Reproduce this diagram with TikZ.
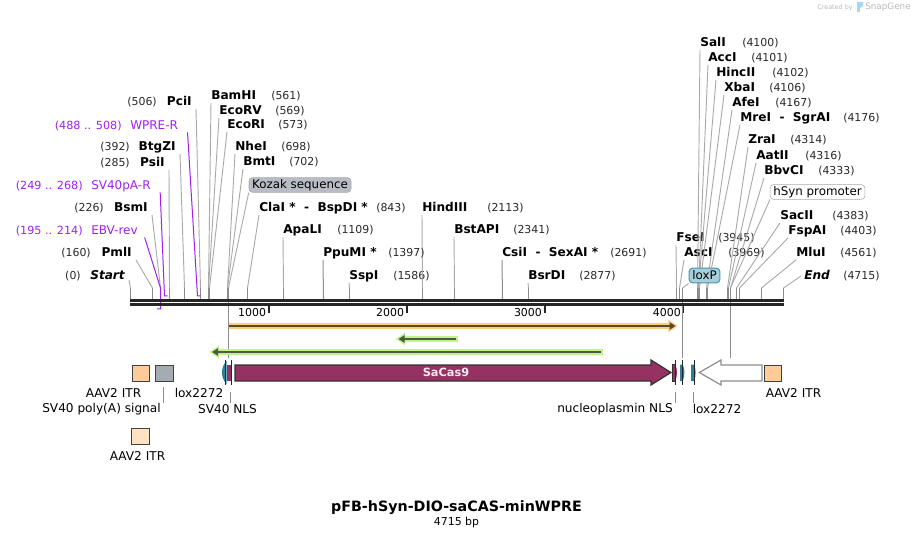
\documentclass[tikz,border=0pt]{standalone}
\usepackage{fontspec}
\setmainfont{DejaVu Sans}
\usetikzlibrary{arrows.meta,positioning,calc}
\definecolor{leadgray}{RGB}{170,170,170}
\definecolor{stemgray}{RGB}{140,140,140}
\definecolor{primer}{RGB}{160,32,240}
\definecolor{numink}{RGB}{40,40,40}
\definecolor{plum}{RGB}{150,50,98}
\definecolor{teal}{RGB}{46,126,155}
\definecolor{itrorange}{RGB}{255,204,153}
\definecolor{itrpale}{RGB}{255,226,196}
\definecolor{polya}{RGB}{164,171,179}
\definecolor{orfglow}{RGB}{250,205,130}
\definecolor{orfdark}{RGB}{92,74,42}
\definecolor{revglow}{RGB}{194,242,140}
\definecolor{revdark}{RGB}{78,90,66}
\definecolor{kozakfill}{RGB}{184,188,196}
\definecolor{loxfill}{RGB}{166,207,220}
\definecolor{loxline}{RGB}{78,147,168}
\definecolor{brandgray}{RGB}{185,185,185}
\definecolor{brandblue}{RGB}{170,215,240}
\tikzset{
  sitename/.style={anchor=base west,inner sep=0pt,text depth=2pt,font=\fontsize{9.1}{10}\selectfont\bfseries},
  sitenameleft/.style={sitename,anchor=base east},
  sitenum/.style={anchor=base west,inner sep=0pt,text=numink,font=\fontsize{8.2}{10}\selectfont},
  sitenumleft/.style={sitenum,anchor=base east},
  primername/.style={anchor=base west,inner sep=0pt,text depth=2pt,text=primer,font=\fontsize{9}{10}\selectfont},
  primernum/.style={primername,anchor=base east,font=\fontsize{8.4}{10}\selectfont},
  lead/.style={draw=leadgray,line width=.7pt},
  stem/.style={draw=stemgray,line width=.75pt},
  primerline/.style={draw=primer,line width=.75pt},
  spine/.style={draw=black!85,line width=2.2pt},
  tick/.style={draw=black!85,line width=1.4pt},
  ticklabel/.style={anchor=base east,inner sep=0pt,font=\fontsize{8.2}{10}\selectfont},
  fbox/.style={draw=black!75,line width=.8pt,inner sep=0pt,anchor=north west},
  flabel/.style={inner sep=0pt,font=\fontsize{9.1}{10}\selectfont},
  tag/.style={rounded corners=2.5pt,inner sep=0pt,minimum height=11pt,font=\fontsize{8.9}{10}\selectfont},
  edgeline/.style={draw=black!85,line width=.7pt},
  flink/.style={draw=stemgray,line width=.6pt}
}
\begin{document}
\begin{tikzpicture}[x=.75pt,y=-.75pt]
  \useasboundingbox (0,0) rectangle (914,538);
  % sites, name then number
  \foreach \nm/\lx/\ly/\nx/\sx/\pos in {BamHI/211/95/271/208.5/561,EcoRV/219/110/275/208.5/569,EcoRI/227/124/278/209.5/573,
    NheI/235/146/281/227.5/698,BmtI/243/161/289/227.5/702,ApaLI/283/229/337/283.5/1109,SspI/349/275/393/349.5/1586,
    HindIII/422/207/487/422.5/2113,BstAPI/454/229/513/454.5/2341,BsrDI/528/275/579/528.5/2877,
    FseI/676/237/718/676.5/3945,AscI/684/252/728/679.5/3969,SalI/700/42/742/697.5/4100,AccI/708/57/751/698.5/4101,
    HincII/716/72/772/698.5/4102,XbaI/724/87/769/699.5/4106,AfeI/732/102/775/706.5/4167,
    ZraI/748/139/790/727.5/4314,AatII/756/155/805/728.5/4316,BbvCI/764/170/818/730.5/4333,
    SacII/780/215/832/736.5/4383,FspAI/788/230/840/739.5/4403,MluI/796/252/840/761.5/4561}{
    \node[sitename] (\nm) at (\lx,\ly+5) {\nm};
    \node[sitenum] (\nm num) at (\nx,\ly+5) {(\pos)};
    \coordinate (\nm bend) at (\sx,288);
    \coordinate (\nm site) at (\sx,299);
    \draw[lead] (\nm.south west) -- (\nm bend);
    \draw[stem] (\nm bend) -- (\nm site);
  }
  % sites, number then name
  \foreach \nm/\lx/\ly/\nx/\sx/\pos in {PciI/192/101/157/200.5/506,BtgZI/176/146/130/184.5/392,PsiI/165/162/130/169.5/285,
    BsmI/148/207/104/160.5/226,PmlI/132/252/91/152.5/160}{
    \node[sitenameleft] (\nm) at (\lx,\ly+5) {\nm};
    \node[sitenumleft] (\nm num) at (\nx,\ly+5) {(\pos)};
    \coordinate (\nm bend) at (\sx,288);
    \coordinate (\nm site) at (\sx,299);
    \draw[lead] ([xshift=3pt]\nm.south east) -- (\nm bend);
    \draw[stem] (\nm bend) -- (\nm site);
  }
  % sites with two names
  \node[sitename] (ClaI) at (259,212) {ClaI *\ \ -\ \ BspDI *};
  \node[sitenum] (ClaI num) at (376,212) {(843)};
  \node[sitename] (PpuMI) at (323,257) {PpuMI *};
  \node[sitenum] (PpuMI num) at (388,257) {(1397)};
  \node[sitename] (CsiI) at (502,257) {CsiI\ \ -\ \ SexAI *};
  \node[sitenum] (CsiI num) at (610,257) {(2691)};
  \node[sitename] (MreI) at (740,122) {MreI\ \ -\ \ SgrAI};
  \node[sitenum] (MreI num) at (843,122) {(4176)};
  \node[sitename,font=\fontsize{9.1}{10}\selectfont\bfseries\itshape] (Start) at (90,280) {Start};
  \node[sitenumleft] (Start num) at (81,280) {(0)};
  \node[sitename,font=\fontsize{9.1}{10}\selectfont\bfseries\itshape] (End) at (804,280) {End};
  \node[sitenum] (End num) at (843,280) {(4715)};
  \coordinate (ClaI bend) at (247.5,288);
  \coordinate (ClaI site) at (247.5,299);
  \coordinate (PpuMI site) at (323.5,299);
  \coordinate (CsiI site) at (502.5,299);
  \coordinate (MreI bend) at (707.5,288);
  \coordinate (MreI site) at (707.5,299);
  \coordinate (Start head) at (129,280);
  \coordinate (Start bend) at (130.5,288);
  \coordinate (Start site) at (130.5,299);
  \coordinate (End head) at (801,276);
  \coordinate (End bend) at (783.5,288);
  \coordinate (End site) at (783.5,299);
  \draw[lead] (ClaI.south west) -- (ClaI bend);
  \draw[stem] (ClaI bend) -- (ClaI site);
  \draw[stem] (PpuMI.south west) -- (PpuMI site);
  \draw[stem] (CsiI.south west) -- (CsiI site);
  \draw[lead] (MreI.south west) -- (MreI bend);
  \draw[stem] (MreI bend) -- (MreI site);
  \draw[lead] (Start head) -- (Start bend);
  \draw[stem] (Start bend) -- (Start site);
  \draw[lead] (End head) -- (End bend);
  \draw[stem] (End bend) -- (End site);
  % tagged features
  \node[tag,draw=leadgray,fill=kozakfill,minimum width=76.5pt] (kozak) at (300,185) {Kozak sequence};
  \node[tag,draw=leadgray,fill=white,minimum width=71pt] (hsyn) at (817.5,192) {hSyn promoter};
  \node[tag,draw=loxline,fill=loxfill,line width=.8pt,minimum width=23pt] (loxP) at (704.5,275.5) {loxP};
  \coordinate (kozak bend) at (228.5,288);
  \coordinate (kozak end) at (228.5,358);
  \coordinate (hsyn bend) at (730.5,288);
  \coordinate (hsyn end) at (730.5,358);
  \coordinate (loxP bend) at (682.5,288);
  \coordinate (loxP end) at (682.5,358);
  \draw[lead] (kozak.south west) -- (kozak bend);
  \draw[stem] (kozak bend) -- (kozak end);
  \draw[lead] (hsyn.south west) -- (hsyn bend);
  \draw[stem] (hsyn bend) -- (hsyn end);
  \draw[lead] (loxP.south west) -- (loxP bend);
  \draw[stem] (loxP bend) -- (loxP end);
  % primers
  \node[primername] (EBV) at (91,234.5) {EBV-rev};
  \node[primernum] (EBV num) at (83,234.5) {(195 .. 214)};
  \node[primername] (SV40pA) at (91,189.5) {SV40pA-R};
  \node[primernum] (SV40pA num) at (83,189.5) {(249 .. 268)};
  \node[primername] (WPRE) at (130,129.5) {WPRE-R};
  \node[primernum] (WPRE num) at (122,129.5) {(488 .. 508)};
  \coordinate (EBV bend) at (160.5,288);
  \coordinate (EBV foot) at (160.5,309);
  \coordinate (EBV toe) at (157,309);
  \coordinate (SV40pA foot) at (164.5,296);
  \coordinate (SV40pA toe) at (167.5,296);
  \coordinate (WPRE foot) at (197.5,296);
  \coordinate (WPRE toe) at (200.5,296);
  \draw[primerline] ([xshift=5pt]EBV.south east) -- (EBV bend) -- (EBV foot) -- (EBV toe);
  \draw[primerline] ([xshift=7pt]SV40pA.south east) -- (SV40pA foot) -- (SV40pA toe);
  \draw[primerline] ([xshift=7pt]WPRE.south east) -- (WPRE foot) -- (WPRE toe);
  % map line
  \coordinate (top a) at (130,300.5);
  \coordinate (top b) at (783.7,300.5);
  \coordinate (low a) at (130,304.5);
  \coordinate (low b) at (783.7,304.5);
  \draw[spine] (top a) -- (top b);
  \draw[spine] (low a) -- (low b);
  \foreach \kb/\tx in {1000/268.8,2000/406.8,3000/544.6,4000/683.5}{
    \coordinate (tick\kb a) at (\tx,306);
    \coordinate (tick\kb b) at (\tx,313);
    \draw[tick] (tick\kb a) -- (tick\kb b);
    \node[ticklabel] (lab\kb) at (\tx-2.5,316) {\kb};
  }
  % orfs over the map
  \coordinate (orf a) at (229,326);
  \coordinate (orf b) at (677.7,326);
  \coordinate (orf c) at (675.5,326);
  \coordinate (rev a) at (602.7,352);
  \coordinate (rev b) at (209.3,352);
  \coordinate (rev c) at (601,352);
  \coordinate (rev d) at (212,352);
  \coordinate (short a) at (457.7,339);
  \coordinate (short b) at (395.7,339);
  \coordinate (short c) at (456,339);
  \coordinate (short d) at (398.5,339);
  \draw[orfglow,line width=4.6pt,-{Triangle[length=7pt,width=9pt]}] (orf a) -- (orf b);
  \draw[orfdark,line width=1.4pt,-{Triangle[length=4.5pt,width=5.5pt]}] (orf a) -- (orf c);
  \draw[revglow,line width=4.4pt,-{Triangle[length=7pt,width=9pt]}] (rev a) -- (rev b);
  \draw[revdark,line width=1.4pt,-{Triangle[length=4.5pt,width=5.5pt]}] (rev c) -- (rev d);
  \draw[revglow,line width=4.4pt,-{Triangle[length=7pt,width=9pt]}] (short a) -- (short b);
  \draw[revdark,line width=1.4pt,-{Triangle[length=4.5pt,width=5.5pt]}] (short c) -- (short d);
  % feature row
  \node[fbox,fill=itrorange,minimum width=13pt,minimum height=12.5pt] (itrL) at (132,364.5) {};
  \node[fbox,fill=polya,minimum width=13.5pt,minimum height=12.5pt] (sv40pa) at (154.5,364.5) {};
  \node[fbox,fill=itrpale,minimum width=14pt,minimum height=12.5pt] (itrB) at (130.5,427.5) {};
  \node[fbox,fill=itrorange,minimum width=13pt,minimum height=12.5pt] (itrR) at (763.5,364.5) {};
  \draw[fill=plum,draw=black!80,line width=.9pt] (235,365) -- (651,365) -- (651,360) -- (671,372.5)
    -- (651,385) -- (651,381) -- (235,381) -- cycle;
  \node[inner sep=0pt,text=white!90!plum,font=\fontsize{8.5}{10}\selectfont\bfseries] (sacas) at (446,372.5) {SaCas9};
  \draw[fill=white,draw=stemgray,line width=.9pt] (762,365) -- (721,365) -- (721,360) -- (699.3,372.5)
    -- (721,385) -- (721,381) -- (762,381) -- cycle;
  % short features at both ends of the orf
  \fill[teal] (226.5,361) .. controls (220.5,367) and (220.5,378) .. (226.5,384) -- cycle;
  \fill[plum] (227.3,364.5) rectangle (231.3,381);
  \fill[plum] (672,364.5) -- (675.3,364.5) .. controls (677.5,369) and (677.5,376) .. (675.3,381) -- (672,381) -- cycle;
  \draw[black!80,line width=.5pt] (672,364.5) rectangle (675.3,381);
  \fill[teal] (680,364.5) -- (682.7,364.5) .. controls (685,369) and (685,376) .. (682.7,381) -- (680,381) -- cycle;
  \fill[teal] (691,364.5) -- (694,364.5) .. controls (696.2,369) and (696.2,376) .. (694,381) -- (691,381) -- cycle;
  \foreach \id/\ex in {a/225.5,b/231.5,c/675.5,d/682.5,e/694.5}{
    \coordinate (edge\id top) at (\ex,360);
    \coordinate (edge\id low) at (\ex,385);
    \draw[edgeline] (edge\id top) -- (edge\id low);
  }
  % feature labels
  \node[flabel] (itrL lab) at (113.5,393) {AAV2 ITR};
  \node[flabel] (sv40pa lab) at (101.5,409) {SV40 poly(A) signal};
  \node[flabel] (loxA lab) at (199,393) {lox2272};
  \node[flabel] (nls lab) at (227.5,409) {SV40 NLS};
  \node[flabel] (itrB lab) at (137.5,456) {AAV2 ITR};
  \node[flabel] (npm lab) at (615,409) {nucleoplasmin NLS};
  \node[flabel] (loxB lab) at (717,409) {lox2272};
  \node[flabel] (itrR lab) at (793.5,393) {AAV2 ITR};
  \foreach \id/\fx/\fa in {pa/163.5/387,nls/230.5/392,npm/675.5/392,lox/693.5/392}{
    \coordinate (link\id a) at (\fx,\fa);
    \coordinate (link\id b) at (\fx,403);
    \draw[flink] (link\id a) -- (link\id b);
  }
  % title
  \node[inner sep=0pt,font=\fontsize{10.7}{12}\selectfont\bfseries] (title) at (456.5,507.5) {pFB-hSyn-DIO-saCAS-minWPRE};
  \node[inner sep=0pt,font=\fontsize{8.2}{10}\selectfont] (size) at (456.5,522) {4715 bp};
  % maker mark
  \node[inner sep=0pt,text=brandgray,font=\fontsize{4.8}{6}\selectfont] (made) at (835,7.5) {Created by};
  \node[inner sep=0pt,text=brandgray,font=\fontsize{6.6}{8}\selectfont] (brand) at (888,7.5) {SnapGene};
  \fill[brandblue] (857,2) -- (863,2) .. controls (864,6) and (862,8) .. (860,8) -- (860,12) -- (857,12) -- cycle;
\end{tikzpicture}
\end{document}
